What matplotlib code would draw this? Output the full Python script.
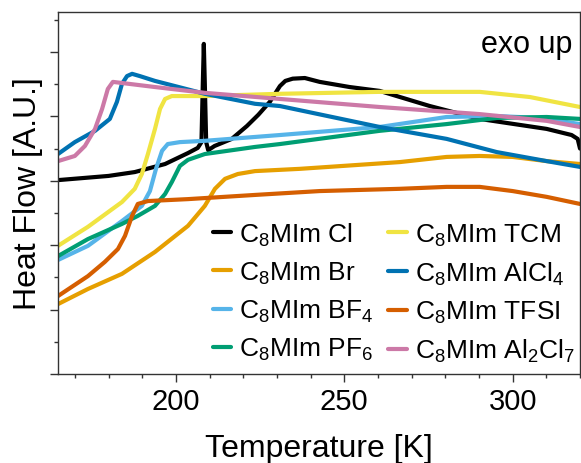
import numpy as np
import matplotlib
matplotlib.use("Agg")
import matplotlib.pyplot as plt
from matplotlib.ticker import MultipleLocator, NullFormatter

plt.rcParams['font.family'] = ['Liberation Sans', 'DejaVu Sans']
plt.rcParams['mathtext.fontset'] = 'custom'
plt.rcParams['mathtext.rm'] = 'Liberation Sans'
plt.rcParams['mathtext.it'] = 'Liberation Sans:italic'
plt.rcParams['mathtext.default'] = 'regular'

# DSC traces (temperature in K, heat flow in a.u.)
t_cl = [165, 180, 187.8, 196.8, 203.6, 206.5, 207.6, 208.0, 208.3, 208.6, 209.0, 209.6,
        211.5, 216.6, 221.1, 224.5, 227.9, 230.9, 232.5, 234.7, 238.3, 242.7, 251.6,
        260.5, 275.4, 290.2, 310.1, 317.5, 319.3, 320]
hf_cl = [6.02, 6.15, 6.27, 6.52, 6.86, 7.02, 7.2, 9.0, 10.25, 9.0, 7.2, 6.95,
         7.08, 7.30, 7.70, 8.05, 8.45, 8.94, 9.10, 9.17, 9.19, 9.07, 8.91,
         8.79, 8.32, 7.92, 7.61, 7.42, 7.30, 7.0]

t_br = [165, 173.9, 184.0, 193.8, 203.6, 208.6, 211.6, 214.6, 218.4, 223.5, 236.8,
        266.5, 280.4, 290.2, 300.0, 310.1, 320]
hf_br = [2.17, 2.64, 3.11, 3.79, 4.60, 5.22, 5.75, 6.06, 6.21, 6.30, 6.37,
         6.58, 6.74, 6.77, 6.74, 6.61, 6.52]

t_bf4 = [165, 173.9, 184.0, 189.9, 192.3, 194.1, 195.9, 197.6, 201.2, 208.6, 230.9,
         260.5, 280.4, 295.3, 308.0, 320]
hf_bf4 = [3.54, 3.98, 4.75, 5.22, 5.68, 6.37, 6.93, 7.14, 7.20, 7.24, 7.42,
          7.67, 7.98, 8.01, 7.95, 7.76]

t_pf6 = [165, 173.9, 184.0, 188.7, 193.8, 196.8, 198.8, 201.2, 203.6, 208.6, 223.5,
         230.9, 260.5, 280.4, 295.3, 310.1, 320]
hf_pf6 = [3.66, 4.19, 4.66, 4.91, 5.22, 5.59, 5.96, 6.46, 6.65, 6.83, 7.05,
          7.14, 7.55, 7.76, 7.95, 7.98, 7.92]

t_tcm = [165, 173.9, 184.0, 187.8, 189.9, 191.7, 193.8, 195.3, 196.8, 198.8, 208.6,
         230.9, 260.5, 290.2, 305.1, 320]
hf_tcm = [3.98, 4.57, 5.34, 5.75, 6.21, 6.83, 7.61, 8.23, 8.54, 8.63, 8.63,
          8.70, 8.76, 8.76, 8.60, 8.29]

t_alcl4 = [165, 170.0, 176.0, 180.4, 182.5, 184.0, 185.5, 187.0, 189.3, 193.8, 208.6,
           223.5, 230.9, 260.5, 280.4, 295.3, 310.1, 320]
hf_alcl4 = [6.83, 7.20, 7.55, 7.92, 8.45, 9.01, 9.25, 9.32, 9.25, 9.10, 8.70,
            8.39, 8.32, 7.67, 7.30, 6.89, 6.61, 6.43]

t_tfsi = [165, 173.9, 178.9, 182.8, 184.9, 187.0, 188.7, 191.7, 203.6, 223.5, 242.7,
          266.5, 280.4, 290.2, 300.0, 310.1, 320]
hf_tfsi = [2.42, 3.04, 3.48, 3.88, 4.29, 4.91, 5.28, 5.37, 5.43, 5.56, 5.68,
           5.75, 5.81, 5.81, 5.68, 5.50, 5.28]

t_al2cl7 = [165, 170.0, 173.0, 176.0, 178.1, 179.8, 181.3, 193.8, 208.6, 230.9,
            260.5, 290.2, 310.1, 320]
hf_al2cl7 = [6.61, 6.77, 7.08, 7.61, 8.23, 8.85, 9.07, 8.91, 8.73, 8.54,
             8.29, 8.07, 7.86, 7.67]

labels = ['C$_8$MIm Cl', 'C$_8$MIm Br', 'C$_8$MIm BF$_4$', 'C$_8$MIm PF$_6$',
          'C$_8$MIm TCM', 'C$_8$MIm AlCl$_4$', 'C$_8$MIm TFSI', 'C$_8$MIm Al$_2$Cl$_7$']
colors = ['#000000', '#E69F00', '#56B4E9', '#009E73',
          '#F0E442', '#0072B2', '#D55E00', '#CC79A7']

series = [(t_cl, hf_cl), (t_br, hf_br), (t_bf4, hf_bf4), (t_pf6, hf_pf6),
          (t_tcm, hf_tcm), (t_alcl4, hf_alcl4), (t_tfsi, hf_tfsi), (t_al2cl7, hf_al2cl7)]

fig = plt.figure(figsize=(5.81, 4.64), dpi=100)
ax = fig.add_axes([0.0998, 0.1918, 0.8985, 0.7802])

for (t, hf), lab, c in zip(series, labels, colors):
    ax.plot(t, hf, color=c, lw=3, label=lab, solid_joinstyle='round', solid_capstyle='round')

ax.set_xlim(165, 320)
ax.set_ylim(0, 11.24)
ax.set_xticks([200, 250, 300])
ax.xaxis.set_minor_locator(MultipleLocator(10))
ax.yaxis.set_major_locator(MultipleLocator(2))
ax.yaxis.set_minor_locator(MultipleLocator(1))
ax.yaxis.set_major_formatter(NullFormatter())

for sp in ax.spines.values():
    sp.set_color('#333333')
    sp.set_linewidth(1.0)
ax.tick_params(which='major', length=5.5, width=1, color='#333333', labelsize=21, pad=4)
ax.tick_params(which='minor', length=3, width=1, color='#333333')

ax.set_xlabel('Temperature [K]', fontsize=23, labelpad=13)
ax.set_ylabel('Heat Flow [A.U.]', fontsize=23, labelpad=1)

ax.text(0.985, 0.889, 'exo up', transform=ax.transAxes, ha='right', va='baseline', fontsize=22)

ax.legend(ncol=2, loc='lower right', bbox_to_anchor=(1.0, 0.013), frameon=False,
          fontsize=19, handlelength=0.7, handletextpad=0.3, columnspacing=0.55,
          labelspacing=0.45, borderaxespad=0.1, borderpad=0.1)

fig.savefig('out.png', dpi=100)
